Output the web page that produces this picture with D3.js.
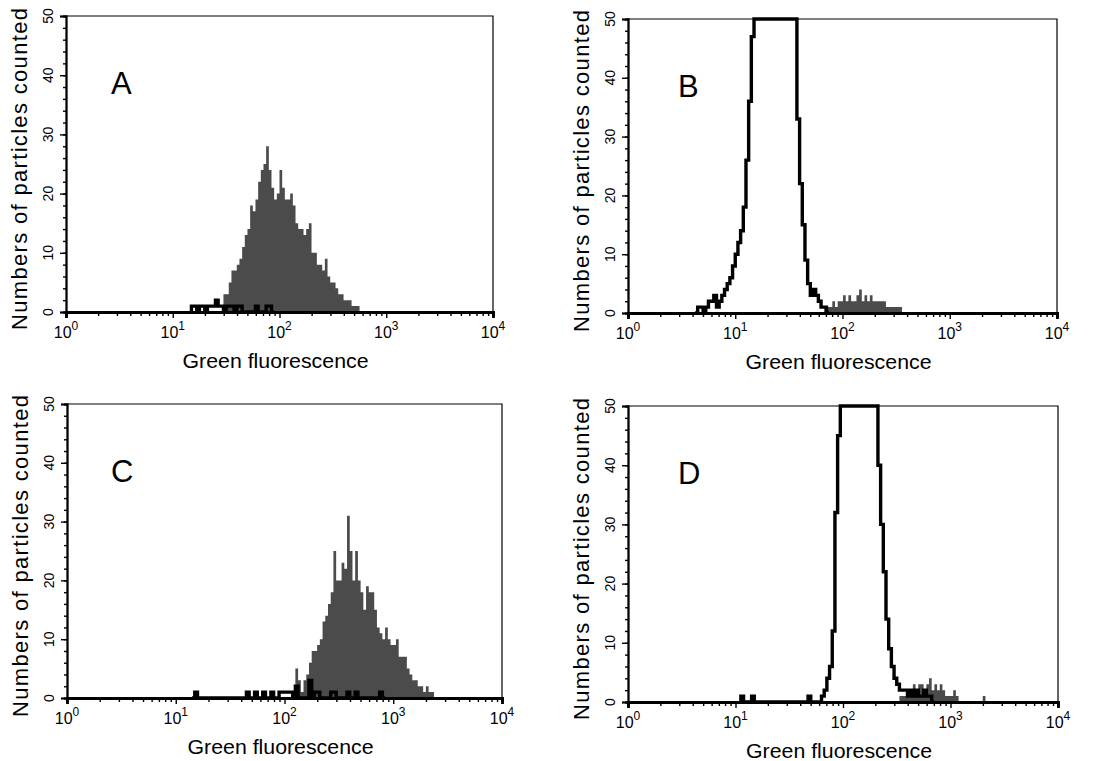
<!DOCTYPE html>
<html>
<head>
<meta charset="utf-8">
<script src="https://cdn.jsdelivr.net/npm/d3@7"></script>
<style>
body{margin:0;background:#fff;}
svg{display:block;}
text{font-family:"Liberation Sans",Arial,Helvetica,sans-serif;fill:#000;}
</style>
</head>
<body>
<svg id="fig" width="1106" height="761"></svg>
<script>
// bins are 0.025 decade wide on the 4-decade log axis
var STEP = 0.025;
var xDecades = [0, 1, 2, 3, 4];
var yMajor = [0, 10, 20, 30, 40, 50];
var yMinor = d3.range(0, 51, 2);
var xTitle = "Green fluorescence";
var yTitle = "Numbers of particles counted";

// A : stained sample (grey) and control (black line)
var fillStartA = 1.475;
var fillA = [3,3,5,7,7,8,9,11,13,14,18,17,19,22,24,25,28,24,21,19,20,24,21,19,19,20,18,15,14,14,13,14,15,10,10,8,8,7,9,6,5,5,4,3,3,2,2,2,1,1,1];
var lineStartA = 1.175;
var lineA = [1,1,0,1,1,0,1,1,1,2,1,1,0,1,1,1,0,1,1,0,0,0,0,0,1,0,0,0,1,1,0];

// B
var fillStartB = 1.83;
var fillB = [1,1,1,2,1,2,2,3,2,3,2,2,3,4,2,3,2,3,2,2,2,2,2,1,1,1,1,1,1];
var lineStartB = 0.625;
var lineB = [0,1,1,0,1,2,2,3,1,2,3,4,5,6,8,10,12,14,18,26,36,47,
             50,50,50,50,50,50,50,50,50,50,50,50,50,50,50,50,
             33,22,15,9,5,3,4,3,2,1,1,0];

// C
var fillStartC = 2.1;
var fillC = [5,3,1,3,4,6,8,8,9,10,13,14,16,18,25,20,20,23,22,31,25,20,25,20,18,15,19,18,18,15,12,11,10,12,10,9,9,10,7,7,7,5,4,3,3,2,2,1,2,1,1];
var lineStartC = 1.15;
var lineC = [0,1,0,0,0,0,0,0,0,0, 0,0,0,0,0,0,0,0,0,0,
             1,0,0,1,0,0,1,0,0,1, 0,0,1,1,1,1,1,0,2,0,
             0,0,0,3,0,1,1,0,0,0, 0,1,1,0,0,0,0,1,0,0,
             1,0,0,0,0,0,0,0,0,1, 0];

// D
var fillStartD = 2.525;
var fillD = [1,1,1,1,1,3,2,3,3,2,3,4,2,3,2,3,2,1,1,1,2,1,0,0,0,0,0,0,0,0,0,1,0];
var lineStartD = 1.05;
var lineD = [1,0,0,0,1,0,0,0,0,0, 0,0,0,0,0,0,0,0,0,0,
             0,0,0,0,0,1,0,0,0,0, 1,2,4,6,12,32,45,
             50,50,50,50,50,50,50,50,50,50,50,50,50,50,
             40,30,22,14,9,6,4,3,2,2,2,1,2,1,2,1,1,2,1,1,0];

var panels = [
  {name: "A", box: {x0: 66,  x1: 493,  y0: 16,  y1: 312}, letterDx: 45, fillStart: fillStartA, fill: fillA, lineStart: lineStartA, line: lineA},
  {name: "B", box: {x0: 628, x1: 1057, y0: 19,  y1: 313}, letterDx: 50, fillStart: fillStartB, fill: fillB, lineStart: lineStartB, line: lineB},
  {name: "C", box: {x0: 67,  x1: 502,  y0: 404, y1: 698}, letterDx: 44, fillStart: fillStartC, fill: fillC, lineStart: lineStartC, line: lineC},
  {name: "D", box: {x0: 628, x1: 1058, y0: 406, y1: 702}, letterDx: 50, fillStart: fillStartD, fill: fillD, lineStart: lineStartD, line: lineD}
];

var svg = d3.select("#fig");

function binEdge(start, i){ return Math.pow(10, start + i * STEP); }

function drawPanel(p){
  var b = p.box;
  var x = d3.scaleLog().domain([1, 1e4]).range([b.x0, b.x1]);
  var y = d3.scaleLinear().domain([0, 50]).range([b.y1, b.y0]);
  var g = svg.append("g").attr("class", "panel " + p.name);

  // grey histogram
  var fillPts = p.fill.map(function(c, i){ return [binEdge(p.fillStart, i), c]; });
  fillPts.push([binEdge(p.fillStart, p.fill.length), p.fill[p.fill.length - 1]]);
  var area = d3.area().curve(d3.curveStepAfter)
      .x(function(d){ return x(d[0]); })
      .y0(y(0))
      .y1(function(d){ return y(d[1]); });
  g.append("path").attr("d", area(fillPts)).attr("fill", "#4b4b4b");

  // black outline histogram
  var n = p.line.length;
  var linePts = [[binEdge(p.lineStart, 0), 0]]
      .concat(p.line.map(function(c, i){ return [binEdge(p.lineStart, i), c]; }))
      .concat([[binEdge(p.lineStart, n), 0]]);
  var line = d3.line().curve(d3.curveStepAfter)
      .x(function(d){ return x(d[0]); })
      .y(function(d){ return y(d[1]); });
  g.append("path").attr("d", line(linePts))
      .attr("fill", "none").attr("stroke", "#000")
      .attr("stroke-width", 3.4).attr("stroke-linejoin", "miter");

  // frame (thin top / right)
  g.append("path")
      .attr("d", "M" + b.x0 + "," + b.y0 + "H" + b.x1 + "V" + b.y1)
      .attr("fill", "none").attr("stroke", "#000").attr("stroke-width", 1.2);

  // y axis
  var yMinorAx = g.append("g").attr("transform", "translate(" + b.x0 + ",0)")
      .call(d3.axisLeft(y).tickValues(yMinor).tickSize(3).tickFormat(""));
  var yMajorAx = g.append("g").attr("transform", "translate(" + b.x0 + ",0)")
      .call(d3.axisLeft(y).tickValues(yMajor).tickSize(6).tickFormat(""));
  [yMinorAx, yMajorAx].forEach(function(ax){
    ax.select(".domain").attr("stroke-width", 1.8);
    ax.selectAll(".tick line").attr("stroke-width", 1.4);
  });
  g.selectAll(".ylab").data(yMajor).enter().append("text")
      .attr("class", "ylab")
      .attr("transform", function(d){ return "translate(" + (b.x0 - 13) + "," + y(d) + ") rotate(-90)"; })
      .attr("text-anchor", "middle")
      .attr("font-size", 14)
      .text(function(d){ return d; });

  // x axis
  var minorVals = [];
  xDecades.slice(0, -1).forEach(function(k){
    d3.range(2, 10).forEach(function(m){ minorVals.push(m * Math.pow(10, k)); });
  });
  var xMinorAx = g.append("g").attr("transform", "translate(0," + b.y1 + ")")
      .call(d3.axisBottom(x).tickValues(minorVals).tickSize(4).tickFormat(""));
  var xMajorAx = g.append("g").attr("transform", "translate(0," + b.y1 + ")")
      .call(d3.axisBottom(x).tickValues(xDecades.map(function(k){ return Math.pow(10, k); })).tickSize(6).tickFormat(""));
  xMinorAx.select(".domain").attr("stroke-width", 2.8);
  xMajorAx.select(".domain").attr("stroke-width", 2.8);
  g.selectAll(".tick line").attr("stroke-width", 1.4);

  var xl = g.selectAll(".xlab").data(xDecades).enter().append("text")
      .attr("class", "xlab")
      .attr("x", function(k){ return x(Math.pow(10, k)); })
      .attr("y", b.y1 + 26)
      .attr("text-anchor", "middle")
      .attr("font-size", 16);
  xl.append("tspan").text("10");
  xl.append("tspan").attr("dy", -8).attr("font-size", 12).text(function(k){ return k; });

  // titles
  g.append("text")
      .attr("x", (b.x0 + b.x1) / 2 - 4)
      .attr("y", b.y1 + 56)
      .attr("text-anchor", "middle")
      .attr("font-size", 21)
      .attr("textLength", 186)
      .attr("lengthAdjust", "spacingAndGlyphs")
      .text(xTitle);
  g.append("text")
      .attr("transform", "translate(" + (b.x0 - 39) + "," + ((b.y0 + b.y1) / 2 + 5) + ") rotate(-90)")
      .attr("text-anchor", "middle")
      .attr("font-size", 22)
      .attr("textLength", 322)
      .attr("lengthAdjust", "spacing")
      .text(yTitle);

  // panel letter
  g.append("text")
      .attr("x", b.x0 + p.letterDx)
      .attr("y", b.y0 + 78)
      .attr("font-size", 31)
      .text(p.name);
}

panels.forEach(drawPanel);
</script>
</body>
</html>
